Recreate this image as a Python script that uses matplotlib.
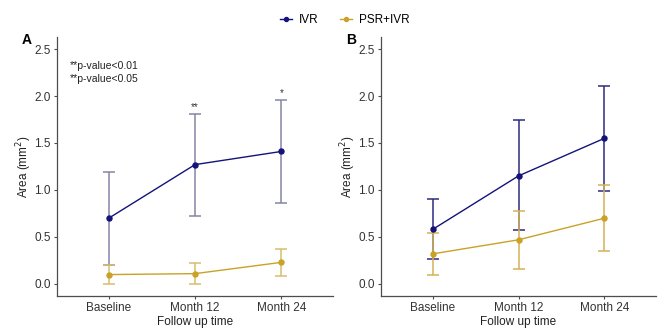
#!/usr/bin/env python3

import matplotlib
matplotlib.use('Agg')
import matplotlib.pyplot as plt

plt.rcParams['font.family'] = ['Liberation Sans', 'DejaVu Sans']

timepoints = ['Baseline', 'Month 12', 'Month 24']

# panel A
a_ivr_mean = [0.70, 1.27, 1.41]
a_ivr_low = [0.20, 0.72, 0.86]
a_ivr_high = [1.19, 1.81, 1.96]
a_psr_mean = [0.10, 0.11, 0.23]
a_psr_low = [0.00, 0.00, 0.09]
a_psr_high = [0.20, 0.22, 0.37]
a_stars = ['', '**', '*']

# panel B
b_ivr_mean = [0.58, 1.15, 1.55]
b_ivr_low = [0.27, 0.57, 0.99]
b_ivr_high = [0.90, 1.74, 2.11]
b_psr_mean = [0.32, 0.47, 0.70]
b_psr_low = [0.10, 0.16, 0.35]
b_psr_high = [0.54, 0.78, 1.05]

IVR_COL = '#13137a'
PSR_COL = '#c9a227'
AXIS_COL = '#4d4d4d'


def panel(ax, groups, bar_colors):
    x = list(range(1, len(timepoints) + 1))
    for (mean, low, high, color, label), ecol in zip(groups, bar_colors):
        yerr = [[m - l for m, l in zip(mean, low)],
                [h - m for h, m in zip(high, mean)]]
        ax.errorbar(x, mean, yerr=yerr, fmt='none', ecolor=ecol,
                    elinewidth=1.1, capsize=4, capthick=1.1, zorder=2)
        ax.plot(x, mean, color=color, lw=1.0, marker='o', ms=3.6,
                label=label, zorder=3)
    ax.set_xlim(0.4, 3.6)
    ax.set_ylim(-0.128, 2.628)
    ax.set_xticks(x)
    ax.set_xticklabels(timepoints)
    ax.set_yticks([0.0, 0.5, 1.0, 1.5, 2.0, 2.5])
    ax.set_yticklabels(['0.0', '0.5', '1.0', '1.5', '2.0', '2.5'])
    for s in ['top', 'right']:
        ax.spines[s].set_visible(False)
    for s in ['left', 'bottom']:
        ax.spines[s].set_color(AXIS_COL)
        ax.spines[s].set_linewidth(0.9)
    ax.tick_params(colors=AXIS_COL, labelcolor='#333333', labelsize=8.5,
                   length=2.5, width=0.8, pad=2)
    ax.set_xlabel('Follow up time', fontsize=8.5, color='#222222', labelpad=1)
    ax.set_ylabel('Area (mm$^2$)', fontsize=8.5, color='#222222')
    ax.yaxis.set_label_coords(-0.085, 0.5)


fig = plt.figure(figsize=(6.69, 3.35), dpi=100)
axA = fig.add_axes([0.0852, 0.1164, 0.4126, 0.7732])
axB = fig.add_axes([0.5695, 0.1164, 0.4111, 0.7732])

panel(axA,
      [(a_ivr_mean, a_ivr_low, a_ivr_high, IVR_COL, 'IVR'),
       (a_psr_mean, a_psr_low, a_psr_high, PSR_COL, 'PSR+IVR')],
      ['#8585a5', '#d9bd6e'])
panel(axB,
      [(b_ivr_mean, b_ivr_low, b_ivr_high, IVR_COL, 'IVR'),
       (b_psr_mean, b_psr_low, b_psr_high, PSR_COL, 'PSR+IVR')],
      ['#2c2c80', '#d4b257'])

# significance marks above the IVR error bars in panel A
for i, s in enumerate(a_stars):
    if s:
        axA.text(i + 1, a_ivr_high[i] + 0.02, s, ha='center', va='bottom',
                 fontsize=7, color='#333333')

axA.text(0.55, 2.37, '**p-value<0.01\n**p-value<0.05', ha='left', va='top',
         fontsize=7.5, color='#222222', linespacing=1.3)

fig.text(22 / 669, 1 - 40 / 335, 'A', fontsize=10, fontweight='bold',
         ha='left', va='center')
fig.text(346 / 669, 1 - 40 / 335, 'B', fontsize=10, fontweight='bold',
         ha='left', va='center')

handles, labels = axA.get_legend_handles_labels()
fig.legend(handles, labels, loc='center', bbox_to_anchor=(345 / 669, 1 - 20 / 335),
           ncol=2, frameon=False, fontsize=8.5, handlelength=1.0,
           handletextpad=0.6, columnspacing=1.8, markerscale=0.8)

fig.savefig('out.png', dpi=100)
